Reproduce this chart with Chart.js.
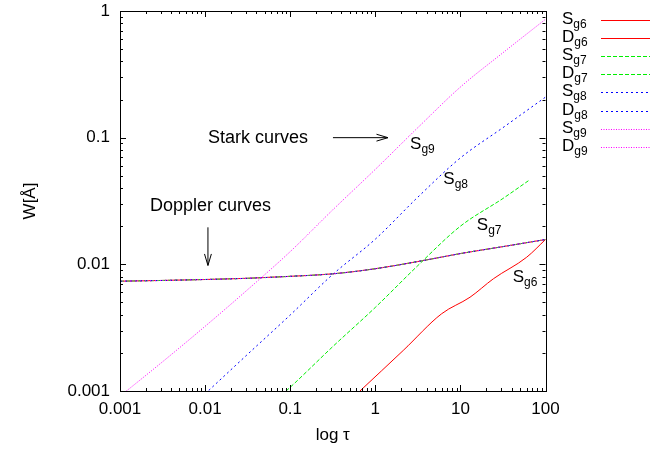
<!DOCTYPE html>
<html>
<head>
<meta charset="utf-8">
<script src="https://cdn.jsdelivr.net/npm/chart.js@4.4.1/dist/chart.umd.min.js"></script>
<style>
  html, body { margin: 0; padding: 0; background: #fff; }
</style>
</head>
<body>
<canvas id="chart" width="670" height="451"></canvas>
<script>
/* ---------- data ---------- */
const xTickValues = [0.001, 0.01, 0.1, 1, 10, 100];
const xTickLabels = ["0.001", "0.01", "0.1", "1", "10", "100"];
const yTickValues = [0.001, 0.01, 0.1, 1];
const yTickLabels = ["0.001", "0.01", "0.1", "1"];

// Doppler curves (all four lie on top of each other)
const tauDoppler = [0.001, 0.00316, 0.01, 0.0316, 0.1, 0.316, 1, 3.16, 10, 31.6, 100];
const wDoppler = [0.00736, 0.00746, 0.00759, 0.00776, 0.00804, 0.00841, 0.00923, 0.01052, 0.01216, 0.0138, 0.0157];

// Stark curves
const tauSg6 = [0.66, 2.13, 6.01, 12.97, 24.4, 60.1, 100];
const wSg6 = [0.001, 0.00209, 0.00407, 0.0055, 0.00769, 0.01138, 0.0157];
const tauSg7 = [0.079, 0.1, 0.316, 1, 3.16, 10, 31.6, 63];
const wSg7 = [0.00093, 0.00107, 0.00224, 0.00457, 0.00977, 0.02, 0.0331, 0.0457];
const tauSg8 = [0.01, 0.0316, 0.1, 0.316, 1, 3.16, 10, 31.6, 100];
const wSg8 = [0.00095, 0.00195, 0.00398, 0.00832, 0.0158, 0.0339, 0.0692, 0.12, 0.209];
const tauSg9 = [0.001, 0.00316, 0.01, 0.0316, 0.1, 0.316, 1, 3.16, 10, 31.6, 100];
const wSg9 = [0.00091, 0.0017, 0.00324, 0.00631, 0.0126, 0.0269, 0.0562, 0.12, 0.251, 0.468, 0.861];

/* ---------- styles ---------- */
const FONT = "'Liberation Sans', Arial, sans-serif";
const cRed = "#ff0000", cGreen = "#00ee00", cBlue = "#0000ff", cMagenta = "#ff00ff";

const pts = (xs, ys) => xs.map((x, i) => ({ x: x, y: ys[i] }));

function series(name, sub, xs, ys, color, dash, idx) {
  return {
    label: name + sub,
    keyMain: name,
    keySub: sub,
    keyColor: color,
    keyDash: dash.slice(),
    data: pts(xs, ys),
    borderColor: color,
    borderWidth: 1,
    borderDash: dash,
    pointRadius: 0,
    cubicInterpolationMode: "monotone",
    clip: 0,
    order: 7 - idx // gnuplot draws later curves on top
  };
}

const datasets = [
  series("S", "g6", tauSg6, wSg6, cRed, [], 0),
  series("D", "g6", tauDoppler, wDoppler, cRed, [], 1),
  series("S", "g7", tauSg7, wSg7, cGreen, [4, 2], 2),
  series("D", "g7", tauDoppler, wDoppler, cGreen, [4, 2], 3),
  series("S", "g8", tauSg8, wSg8, cBlue, [2, 3], 4),
  series("D", "g8", tauDoppler, wDoppler, cBlue, [2, 3], 5),
  series("S", "g9", tauSg9, wSg9, cMagenta, [1, 1.5], 6),
  series("D", "g9", tauDoppler, wDoppler, cMagenta, [1, 1.5], 7),
];

// text labels placed in data coordinates (tau, W at baseline)
const curveLabels = [
  { main: "S", sub: "g9", tau: 2.56, w: 0.081 },
  { main: "S", sub: "g8", tau: 6.3, w: 0.0433 },
  { main: "S", sub: "g7", tau: 15.6, w: 0.0185 },
  { main: "S", sub: "g6", tau: 41.2, w: 0.0073 },
];
const notes = [
  { text: "Stark curves", tau: 0.0108, w: 0.09 },
  { text: "Doppler curves", tau: 0.00225, w: 0.0266 },
];
const arrows = [
  { from: [0.318, 0.1], to: [1.41, 0.1] },
  { from: [0.0108, 0.0196], to: [0.0108, 0.0098] },
];

/* ---------- drawing helpers ---------- */
function subText(ctx, main, sub, x, y) {
  ctx.font = "17px " + FONT;
  ctx.fillText(main, x, y);
  const w = ctx.measureText(main).width;
  ctx.font = "12px " + FONT;
  ctx.fillText(sub, x + w, y + 4);
}

function arrow(ctx, x1, y1, x2, y2) {
  const a = Math.atan2(y2 - y1, x2 - x1);
  const len = 12, spread = 0.29;
  ctx.beginPath();
  ctx.moveTo(x1, y1);
  ctx.lineTo(x2, y2);
  ctx.moveTo(x2 - len * Math.cos(a - spread), y2 - len * Math.sin(a - spread));
  ctx.lineTo(x2, y2);
  ctx.lineTo(x2 - len * Math.cos(a + spread), y2 - len * Math.sin(a + spread));
  ctx.stroke();
}

const decorations = {
  id: "decorations",
  beforeDraw(chart) {
    const ctx = chart.ctx;
    ctx.save();
    ctx.fillStyle = "#fff";
    ctx.fillRect(0, 0, chart.width, chart.height);
    ctx.restore();
  },
  afterDraw(chart) {
    const ctx = chart.ctx;
    const a = chart.chartArea;
    const xs = chart.scales.x, ys = chart.scales.y;
    ctx.save();
    ctx.strokeStyle = "#000";
    ctx.fillStyle = "#000";
    ctx.lineWidth = 1;
    ctx.setLineDash([]);

    // frame
    ctx.strokeRect(Math.round(a.left) + 0.5, Math.round(a.top) + 0.5,
      Math.round(a.right - a.left), Math.round(a.bottom - a.top));

    // inward ticks, mirrored
    ctx.beginPath();
    for (let e = -3; e <= 1; e++) {
      for (let k = 1; k <= 9; k++) {
        const px = Math.round(xs.getPixelForValue(k * Math.pow(10, e))) + 0.5;
        const L = k === 1 ? 6 : 3;
        ctx.moveTo(px, a.bottom); ctx.lineTo(px, a.bottom - L);
        ctx.moveTo(px, a.top); ctx.lineTo(px, a.top + L);
      }
    }
    for (let e = -3; e <= -1; e++) {
      for (let k = 1; k <= 9; k++) {
        const py = Math.round(ys.getPixelForValue(k * Math.pow(10, e))) + 0.5;
        const L = k === 1 ? 6 : 3;
        ctx.moveTo(a.left, py); ctx.lineTo(a.left + L, py);
        ctx.moveTo(a.right, py); ctx.lineTo(a.right - L, py);
      }
    }
    ctx.stroke();

    // annotations
    ctx.textBaseline = "alphabetic";
    ctx.textAlign = "left";
    curveLabels.forEach(l => {
      subText(ctx, l.main, l.sub, xs.getPixelForValue(l.tau), ys.getPixelForValue(l.w));
    });
    ctx.font = "18px " + FONT;
    notes.forEach(n => {
      ctx.fillText(n.text, xs.getPixelForValue(n.tau), ys.getPixelForValue(n.w));
    });
    arrows.forEach(r => {
      arrow(ctx, xs.getPixelForValue(r.from[0]), ys.getPixelForValue(r.from[1]),
        xs.getPixelForValue(r.to[0]), ys.getPixelForValue(r.to[1]));
    });
    ctx.restore();

    // key on the right
    const keyX = a.right + 16.5, lineX1 = a.right + 55.5, lineX2 = a.right + 104.5;
    datasets.forEach((ds, i) => {
      const y = a.top + 8.5 + i * 18.2;
      ctx.save();
      ctx.fillStyle = "#000";
      ctx.textBaseline = "alphabetic";
      ctx.textAlign = "left";
      subText(ctx, ds.keyMain, ds.keySub, keyX, y + 4);
      ctx.strokeStyle = ds.keyColor;
      ctx.lineWidth = 1;
      ctx.setLineDash(ds.keyDash);
      ctx.beginPath();
      ctx.moveTo(lineX1, Math.round(y) + 0.5);
      ctx.lineTo(lineX2, Math.round(y) + 0.5);
      ctx.stroke();
      ctx.restore();
    });
  }
};

Chart.defaults.font.family = FONT;
Chart.defaults.color = "#000";

new Chart(document.getElementById("chart"), {
  type: "line",
  data: { datasets: datasets },
  plugins: [decorations],
  options: {
    responsive: false,
    devicePixelRatio: 1,
    animation: false,
    layout: { padding: { top: 11, right: 124.5, left: 0, bottom: 0 } },
    plugins: { legend: { display: false }, tooltip: { enabled: false } },
    scales: {
      x: {
        type: "logarithmic",
        min: 0.001,
        max: 100,
        afterFit: s => { s.height = 60; s.paddingLeft = 0; s.paddingRight = 0; },
        afterBuildTicks: s => { s.ticks = xTickValues.map(v => ({ value: v })); },
        grid: { display: false, drawTicks: false },
        border: { display: false },
        ticks: {
          autoSkip: false,
          maxRotation: 0,
          padding: 8,
          font: { size: 17 },
          callback: (v, i) => xTickLabels[i]
        },
        title: { display: true, text: "log \u03c4", font: { size: 17 }, padding: { top: 4, bottom: 5 } }
      },
      y: {
        type: "logarithmic",
        min: 0.001,
        max: 1,
        afterFit: s => { s.width = 120; s.paddingTop = 0; s.paddingBottom = 0; },
        afterBuildTicks: s => { s.ticks = yTickValues.map(v => ({ value: v })); },
        grid: { display: false, drawTicks: false },
        border: { display: false },
        ticks: {
          autoSkip: false,
          padding: 10,
          font: { size: 17 },
          callback: (v, i) => yTickLabels[i]
        },
        title: { display: true, text: "W[\u00c5]", font: { size: 17 }, padding: { top: 20, bottom: 0 } }
      }
    }
  }
});
</script>
</body>
</html>
